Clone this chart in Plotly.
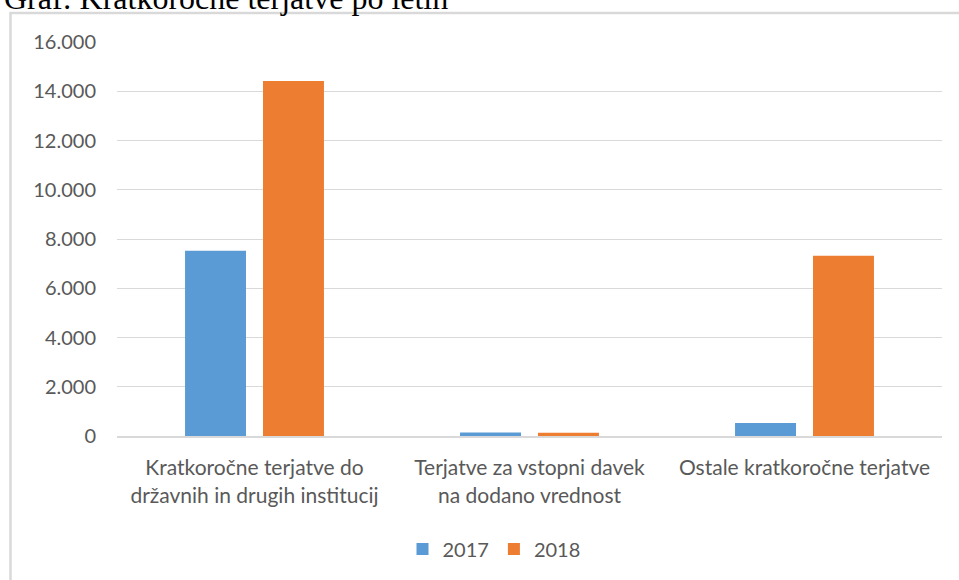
import plotly.graph_objects as go

categories = ["Kratkoročne terjatve do<br>državnih in drugih institucij",
              "Terjatve za vstopni davek<br>na dodano vrednost",
              "Ostale kratkoročne terjatve"]
series_names = ["2017", "2018"]
values_2017 = [7520, 140, 530]
values_2018 = [14420, 130, 7320]
tick_vals = [0, 2000, 4000, 6000, 8000, 10000, 12000, 14000, 16000]
tick_text = ["0", "2.000", "4.000", "6.000", "8.000", "10.000", "12.000", "14.000", "16.000"]
title_text = "Graf: Kratkoročne terjatve po letih"

colors = ["#5b9bd5", "#ed7d31"]
font_family = "Lato, 'Open Sans', sans-serif"
grey = "#595959"

L, R, T, B = 117, 17, 42, 144
W, H = 959, 580
pw, ph = W - L - R, H - T - B

def px_x(x):
    return (x - L) / pw

def px_y(y):
    return (H - B - y) / ph

fig = go.Figure()
for name, vals, c in zip(series_names, [values_2017, values_2018], colors):
    fig.add_trace(go.Bar(x=categories, y=vals, name=name, marker=dict(color=c, line=dict(width=0))))

fig.update_layout(
    width=W, height=H,
    margin=dict(l=L, r=R, t=T, b=B, autoexpand=False),
    paper_bgcolor="white", plot_bgcolor="white",
    barmode="group", bargap=0.433, bargroupgap=0.218,
    font=dict(family=font_family, color=grey, size=16),
    legend=dict(orientation="h", x=px_x(494), xanchor="center", y=px_y(549), yanchor="middle",
                font=dict(size=20, color=grey), traceorder="normal", itemwidth=30),
    showlegend=True,
)
fig.update_yaxes(range=[0, 16000], tickvals=tick_vals, ticktext=tick_text, showgrid=True,
                 gridcolor="#d9d9d9", gridwidth=1, zeroline=False, showline=False,
                 ticks="", ticklabelstandoff=20, tickfont=dict(size=20, color=grey),
                 automargin=False)
fig.update_xaxes(showgrid=False, zeroline=False, showline=True, linecolor="#d9d9d9", linewidth=2,
                 ticks="", tickfont=dict(size=21, color=grey), ticklabelstandoff=12,
                 automargin=False)

fig.add_shape(type="rect", xref="paper", yref="paper",
              x0=px_x(10.5), x1=px_x(975), y0=px_y(600), y1=px_y(13),
              line=dict(color="#d9d9d9", width=2.5), fillcolor="rgba(0,0,0,0)", layer="below")

fig.add_annotation(text=title_text, xref="paper", yref="paper", x=px_x(2), y=px_y(18),
                   xanchor="left", yanchor="bottom", showarrow=False,
                   font=dict(family="'Liberation Serif', 'Times New Roman', serif", size=32, color="black"))

fig.write_html("out.html", config={"displayModeBar": False},
               post_script="document.body.style.margin='0';document.body.style.overflow='hidden';")
